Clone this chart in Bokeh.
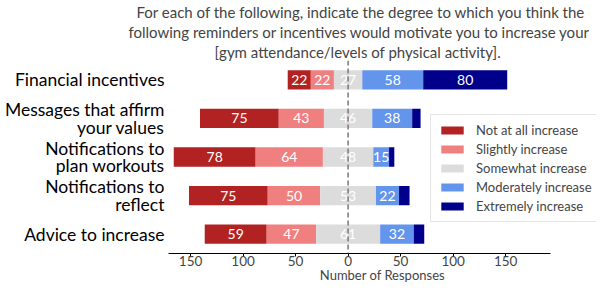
import numpy as np
from bokeh.plotting import figure
from bokeh.models import (ColumnDataSource, FactorRange, Range1d, FixedTicker, Span, Title)
from bokeh.core.properties import value
from bokeh.embed import file_html
from bokeh.resources import INLINE

categories = ["Financial incentives", "Messages that affirm\nyour values", "Notifications to\nplan workouts",
              "Notifications to\nreflect", "Advice to increase"]
levels = ["Not at all increase", "Slightly increase", "Somewhat increase", "Moderately increase", "Extremely increase"]
not_at_all = [22, 75, 78, 75, 59]
slightly = [22, 43, 64, 50, 47]
somewhat = [27, 46, 48, 53, 61]
moderately = [58, 38, 15, 22, 32]
extremely = [80, 8, 5, 10, 10]
colors = ["#b22222", "#f08080", "#dcdcdc", "#6495ed", "#00008b"]
title_lines = ["For each of the following, indicate the degree to which you think the",
               "following reminders or incentives would motivate you to increase your",
               "[gym attendance/levels of physical activity]."]
title_offsets = [-32, -40, 46]
xticks = [-150, -100, -50, 0, 50, 100, 150]

FONT = "Lato"

series = [not_at_all, slightly, somewhat, moderately, extremely]
data = np.array(series, dtype=float)
start = -(data[0] + data[1] + data[2] / 2.0)
lefts = start + np.vstack([np.zeros(len(categories)), np.cumsum(data, axis=0)[:-1]])
rights = lefts + data

p = figure(width=597, height=285, output_backend="svg", toolbar_location=None,
           y_range=FactorRange(factors=categories[::-1]), x_range=Range1d(-171, 236.5),
           min_border_left=168, min_border_right=1, min_border_bottom=20, min_border_top=0)

for i, lvl in enumerate(levels):
    src = ColumnDataSource(dict(y=categories, left=lefts[i], right=rights[i]))
    p.hbar(y="y", left="left", right="right", height=0.5, source=src, color=colors[i],
           line_color=None, legend_label=lvl)

p.add_layout(Span(location=0, dimension="height", line_color="#808080", line_width=1.6, line_dash="5 3"))

tx, ty, tt = [], [], []
for i in range(len(levels)):
    for j, c in enumerate(categories):
        if data[i][j] >= 12:
            tx.append((lefts[i][j] + rights[i][j]) / 2)
            ty.append(c)
            tt.append(str(int(data[i][j])))
p.text(x="x", y="y", text="t", source=ColumnDataSource(dict(x=tx, y=ty, t=tt)),
       text_align="center", text_baseline="middle", text_color="white",
       text_font=value(FONT), text_font_size="14px")

for line, off in reversed(list(zip(title_lines, title_offsets))):
    p.add_layout(Title(text=line, align="left", text_font=FONT, text_font_size="15px",
                       text_line_height=1.0, text_font_style="normal", standoff=0, offset=off), "above")

p.xgrid.visible = False
p.ygrid.visible = False
p.outline_line_color = None

p.xaxis.ticker = FixedTicker(ticks=xticks)
p.xaxis.bounds = (-171, 192.7)
p.xaxis.major_label_overrides = {t: str(abs(t)) for t in xticks}
p.xaxis.axis_label = "Number of Responses"
p.xaxis.axis_label_text_font = FONT
p.xaxis.axis_label_text_font_style = "normal"
p.xaxis.axis_label_text_font_size = "13px"
p.xaxis.axis_label_text_line_height = 0.8
p.xaxis.axis_label_standoff = -2
p.xaxis.major_label_text_font = FONT
p.xaxis.major_label_text_font_size = "13.5px"
p.xaxis.major_label_text_line_height = 0.8
p.xaxis.major_label_standoff = -1
p.xaxis.major_tick_in = 0
p.xaxis.major_tick_out = 3
p.xaxis.minor_tick_line_color = None
p.xaxis.axis_line_color = "black"

p.yaxis.axis_line_color = None
p.yaxis.major_tick_line_color = None
p.yaxis.major_tick_out = 0
p.yaxis.major_label_text_font = FONT
p.yaxis.major_label_text_font_size = "17.5px"
p.yaxis.major_label_text_line_height = 0.85
p.yaxis.major_label_text_color = "black"
p.yaxis.major_label_standoff = 4

lg = p.legend[0]
lg.location = (262, 31)
lg.label_text_font = FONT
lg.label_text_font_size = "13px"
lg.glyph_width = 28
lg.glyph_height = 10
lg.label_standoff = 10
lg.label_height = 15
lg.spacing = 3
lg.padding = 7
lg.margin = 0
lg.border_line_color = "#cccccc"
lg.border_line_width = 1
lg.background_fill_alpha = 0.9

open("out.html", "w").write(file_html(p, INLINE))
